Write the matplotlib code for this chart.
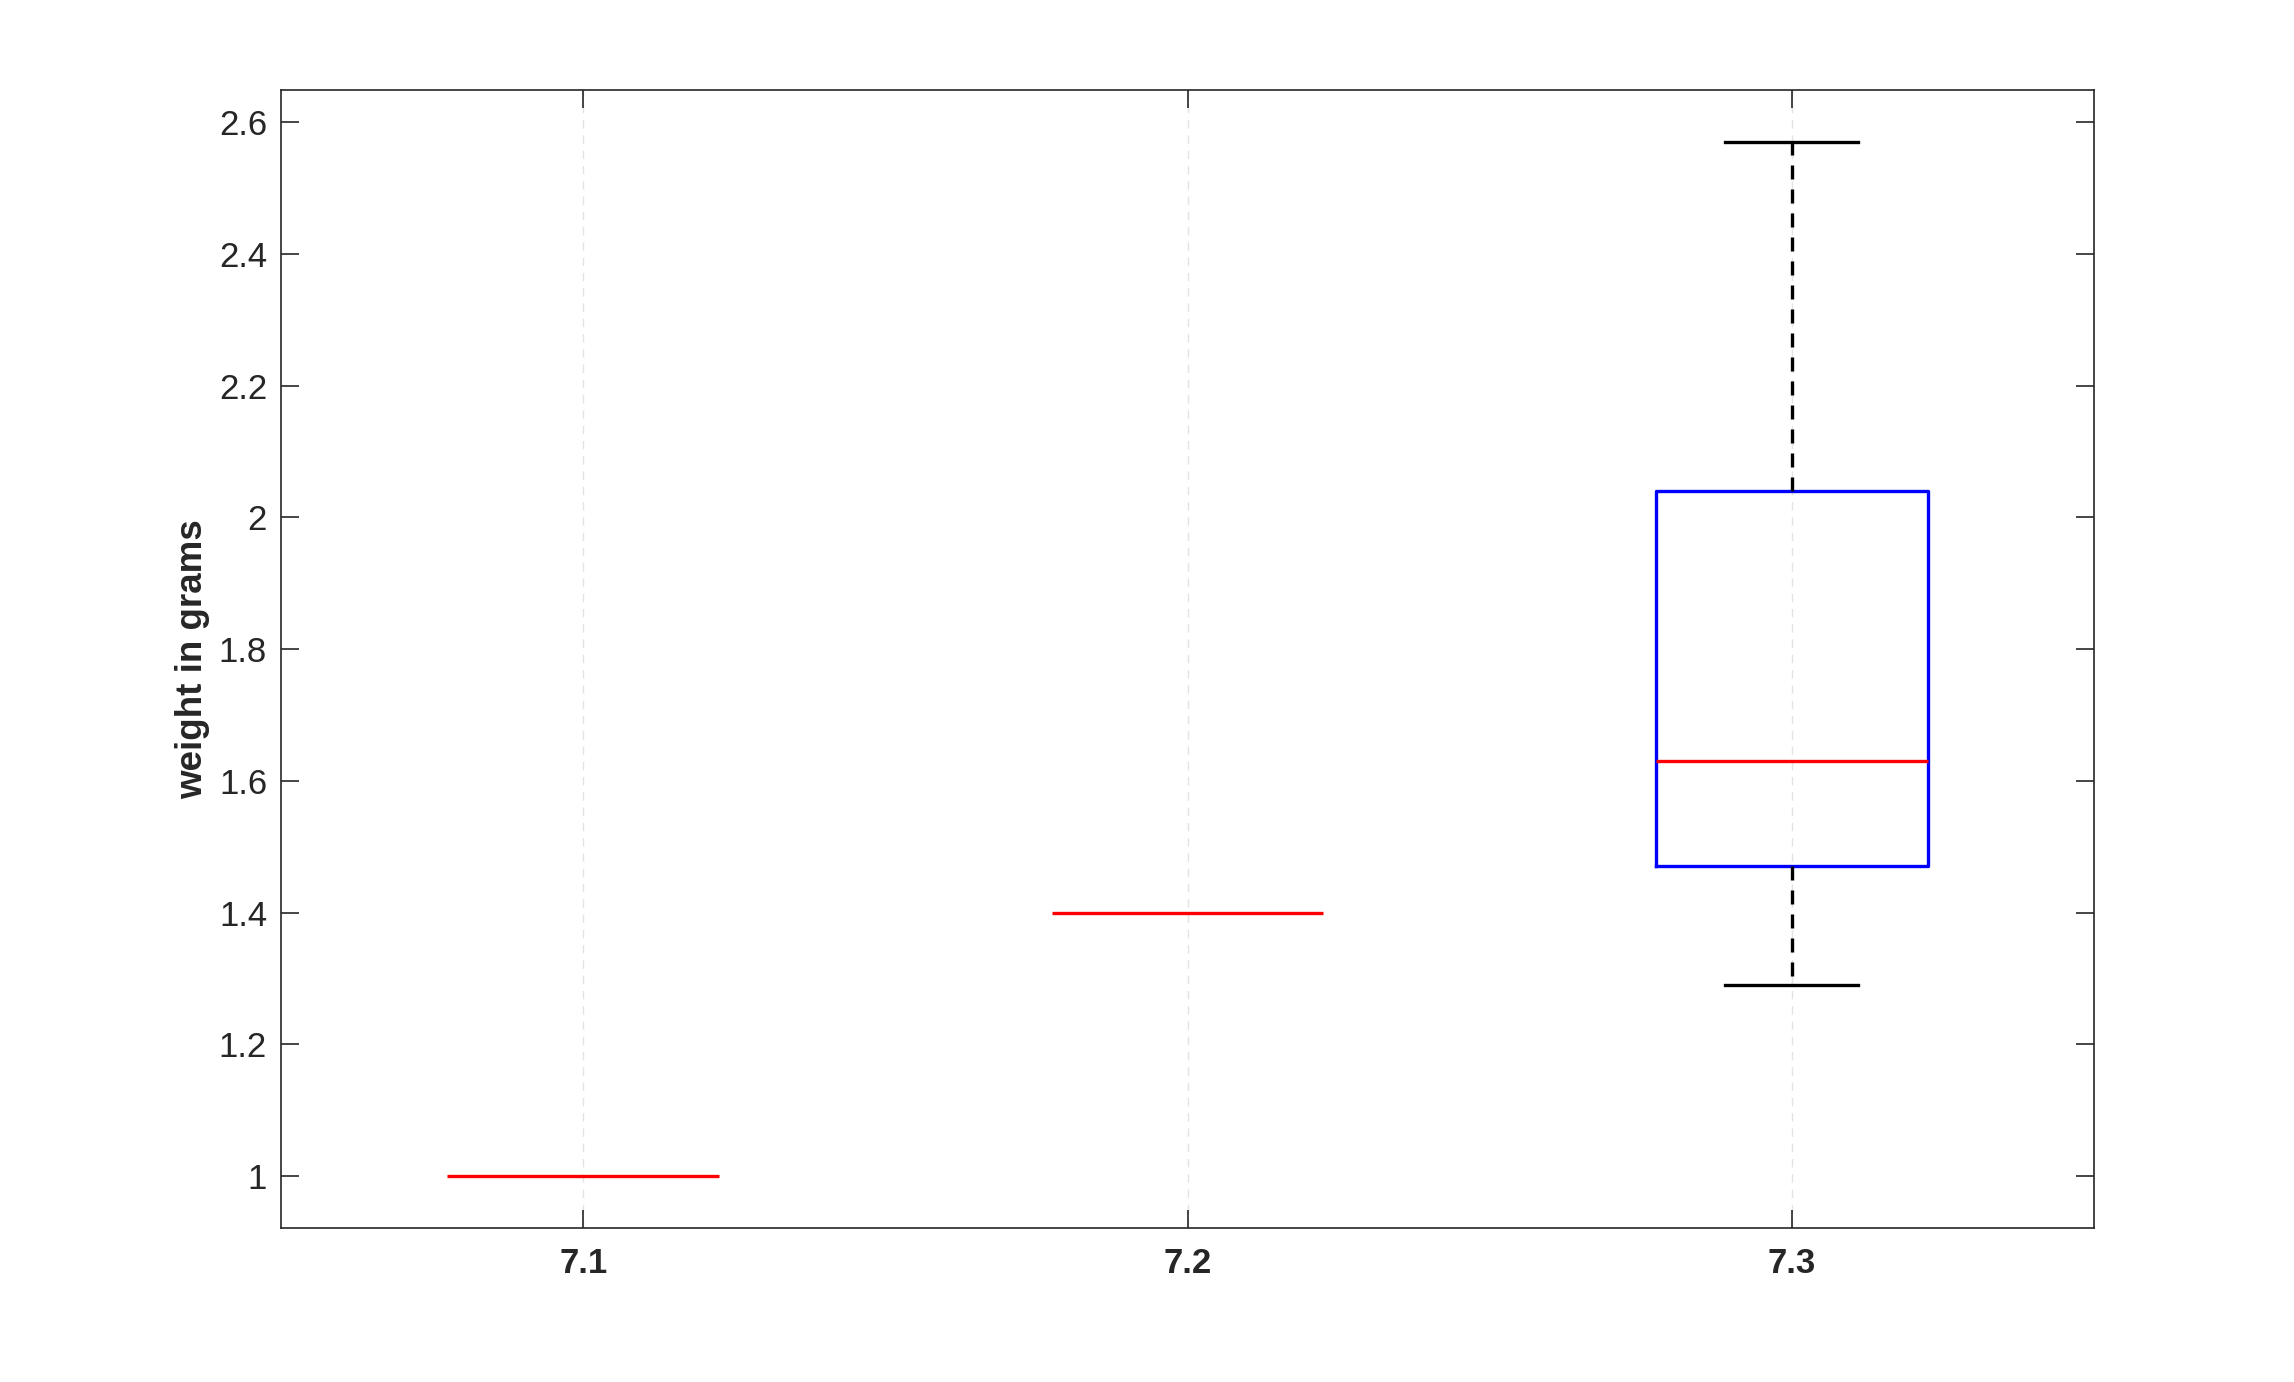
import matplotlib.pyplot as plt

# 数据：每组的箱线图统计量
groups = ['7.1', '7.2', '7.3']
medians = [1.0, 1.40, 1.63]
q1 = [1.0, 1.40, 1.47]
q3 = [1.0, 1.40, 2.04]
whislo = [1.0, 1.40, 1.29]
whishi = [1.0, 1.40, 2.57]

plt.rcParams['font.family'] = ['Liberation Sans', 'DejaVu Sans']

stats = []
for i, g in enumerate(groups):
    stats.append({'label': g, 'med': medians[i], 'q1': q1[i], 'q3': q3[i],
                  'whislo': whislo[i], 'whishi': whishi[i], 'fliers': []})

fig = plt.figure(figsize=(22.94, 13.82), dpi=100)
ax = fig.add_axes([281 / 2294, 1 - 1228 / 1382, (2094 - 281) / 2294, (1228 - 90) / 1382])

bp = ax.bxp(stats, positions=[1, 2, 3], widths=0.45, showfliers=False,
            boxprops=dict(color='blue', linewidth=2.4),
            medianprops=dict(color='red', linewidth=2.4, zorder=3),
            whiskerprops=dict(color='black', linewidth=2.4, linestyle=(0, (4.2, 3))),
            capprops=dict(color='black', linewidth=2.4),
            capwidths=0.22)

# 只有一个值的组只显示中位线
for i in range(len(groups)):
    if q1[i] == q3[i] and whislo[i] == whishi[i]:
        bp['boxes'][i].set_visible(False)
        for art in bp['whiskers'][2 * i:2 * i + 2] + bp['caps'][2 * i:2 * i + 2]:
            art.set_visible(False)

ax.set_xlim(0.5, 3.5)
ax.set_ylim(0.921, 2.649)
ax.set_yticks([1, 1.2, 1.4, 1.6, 1.8, 2.0, 2.2, 2.4, 2.6])
ax.set_yticklabels(['1', '1.2', '1.4', '1.6', '1.8', '2', '2.2', '2.4', '2.6'])
ax.set_xticks([1, 2, 3])
ax.set_xticklabels(groups, fontweight='bold')

# 类似 MATLAB 的坐标轴样式
dark = '#262626'
for s in ax.spines.values():
    s.set_color(dark)
    s.set_linewidth(1.2)
ax.tick_params(direction='in', length=13, width=1.2, color=dark, labelcolor=dark,
               labelsize=25, top=True, right=True)
ax.tick_params(axis='y', pad=10)
ax.tick_params(axis='x', pad=14)
ax.xaxis.grid(True, linestyle=(0, (6, 5)), color='#e3e3e3', linewidth=1)
ax.set_axisbelow(True)

ax.set_ylabel('weight in grams', fontsize=26.5, fontweight='bold', color=dark, labelpad=6)

plt.savefig('out.png', dpi=100)
